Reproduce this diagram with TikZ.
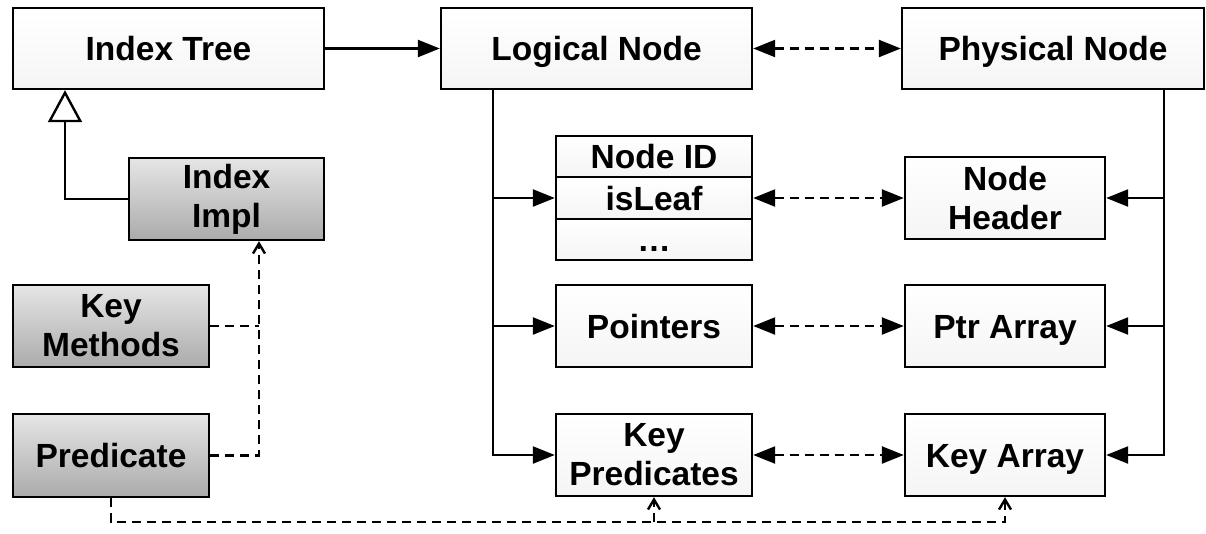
\documentclass[tikz,border=0pt]{standalone}
\usepackage{fontspec}
\setmainfont{Liberation Sans}
\usetikzlibrary{arrows.meta}
\tikzset{
  box/.style={draw=black, line width=2.4pt, inner sep=0pt, align=center,
    font=\fontsize{33.5}{39}\bfseries\selectfont,
    top color=white, bottom color=gray!8},
  graybox/.style={box, top color=gray!20, bottom color=gray!66},
  onel/.style={text height=24pt, text depth=0pt},
  conn/.style={line width=2.4pt},
  solidarr/.style={conn, -{Triangle[length=22pt,width=17pt]}},
  dasharr/.style={conn, dash pattern=on 9pt off 6pt, {Triangle[length=22pt,width=17pt]}-{Triangle[length=22pt,width=17pt]}},
  dline/.style={conn, dash pattern=on 9pt off 6pt},
  dbarb/.style={dline, -{Straight Barb[length=10pt,width=12pt]}},
  inherit/.style={conn, -{Triangle[open,length=32pt,width=34pt,fill=white]}}
}
\begin{document}
\begin{tikzpicture}[x=1pt,y=-1pt]
\useasboundingbox (0,0) rectangle (1206,533);
% top row
\node[box,onel,minimum width=311pt,minimum height=81pt] (itree) at (168.5,48.5) {Index Tree};
\node[box,onel,minimum width=311pt,minimum height=81pt] (lnode) at (596.5,48.5) {Logical Node};
\node[box,onel,minimum width=302pt,minimum height=81pt] (pnode) at (1053,48.5) {Physical Node};
% gray boxes
\node[graybox,minimum width=195pt,minimum height=82pt] (impl) at (226.5,199) {Index\\Impl};
\node[graybox,minimum width=196pt,minimum height=82pt] (keym) at (111,326) {Key\\Methods};
\node[graybox,onel,minimum width=196pt,minimum height=83pt] (pred) at (111,455.5) {Predicate};
% logical parts
\node[box,onel,minimum width=196pt,minimum height=41pt] (nid) at (654,156.5) {Node ID};
\node[box,onel,minimum width=196pt,minimum height=42pt] (leaf) at (654,198) {isLeaf};
\node[box,onel,minimum width=196pt,minimum height=41pt] (dots) at (654,239.5) {…};
\node[box,onel,minimum width=196pt,minimum height=82pt] (ptrs) at (654,326) {Pointers};
\node[box,minimum width=196pt,minimum height=82pt] (kpred) at (654,455) {Key\\Predicates};
% physical parts
\node[box,minimum width=200pt,minimum height=82pt] (nhdr) at (1005,198) {Node\\Header};
\node[box,onel,minimum width=200pt,minimum height=82pt] (parr) at (1005,326) {Ptr Array};
\node[box,onel,minimum width=200pt,minimum height=82pt] (karr) at (1005,455) {Key Array};
% helper coordinates
\coordinate (inhx) at (65,0);
\coordinate (lx) at (493,0);
\coordinate (px) at (1164,0);
\coordinate (dx) at (259,0);
\coordinate (by) at (0,522);
% connectors
\draw[solidarr] (itree) -- (lnode);
\draw[dasharr] (lnode) -- (pnode);
\draw[inherit] (impl.west) -| (itree.south west -| inhx);
\draw[solidarr] (lnode.south -| lx) |- (leaf.west);
\draw[solidarr] (lnode.south -| lx) |- (ptrs.west);
\draw[solidarr] (lnode.south -| lx) |- (kpred.west);
\draw[solidarr] (pnode.south -| px) |- (nhdr.east);
\draw[solidarr] (pnode.south -| px) |- (parr.east);
\draw[solidarr] (pnode.south -| px) |- (karr.east);
\draw[dasharr] (leaf.east) -- (nhdr.west);
\draw[dasharr] (ptrs.east) -- (parr.west);
\draw[dasharr] (kpred.east) -- (karr.west);
\draw[dline] (keym.east) -- (keym.east -| dx);
\draw[dbarb] (pred.east) -| (impl.south -| dx);
\draw[dbarb] (pred.south) |- (by -| karr.south) -- (karr.south);
\draw[dbarb] (by -| kpred.south) -- (kpred.south);
\end{tikzpicture}
\end{document}
